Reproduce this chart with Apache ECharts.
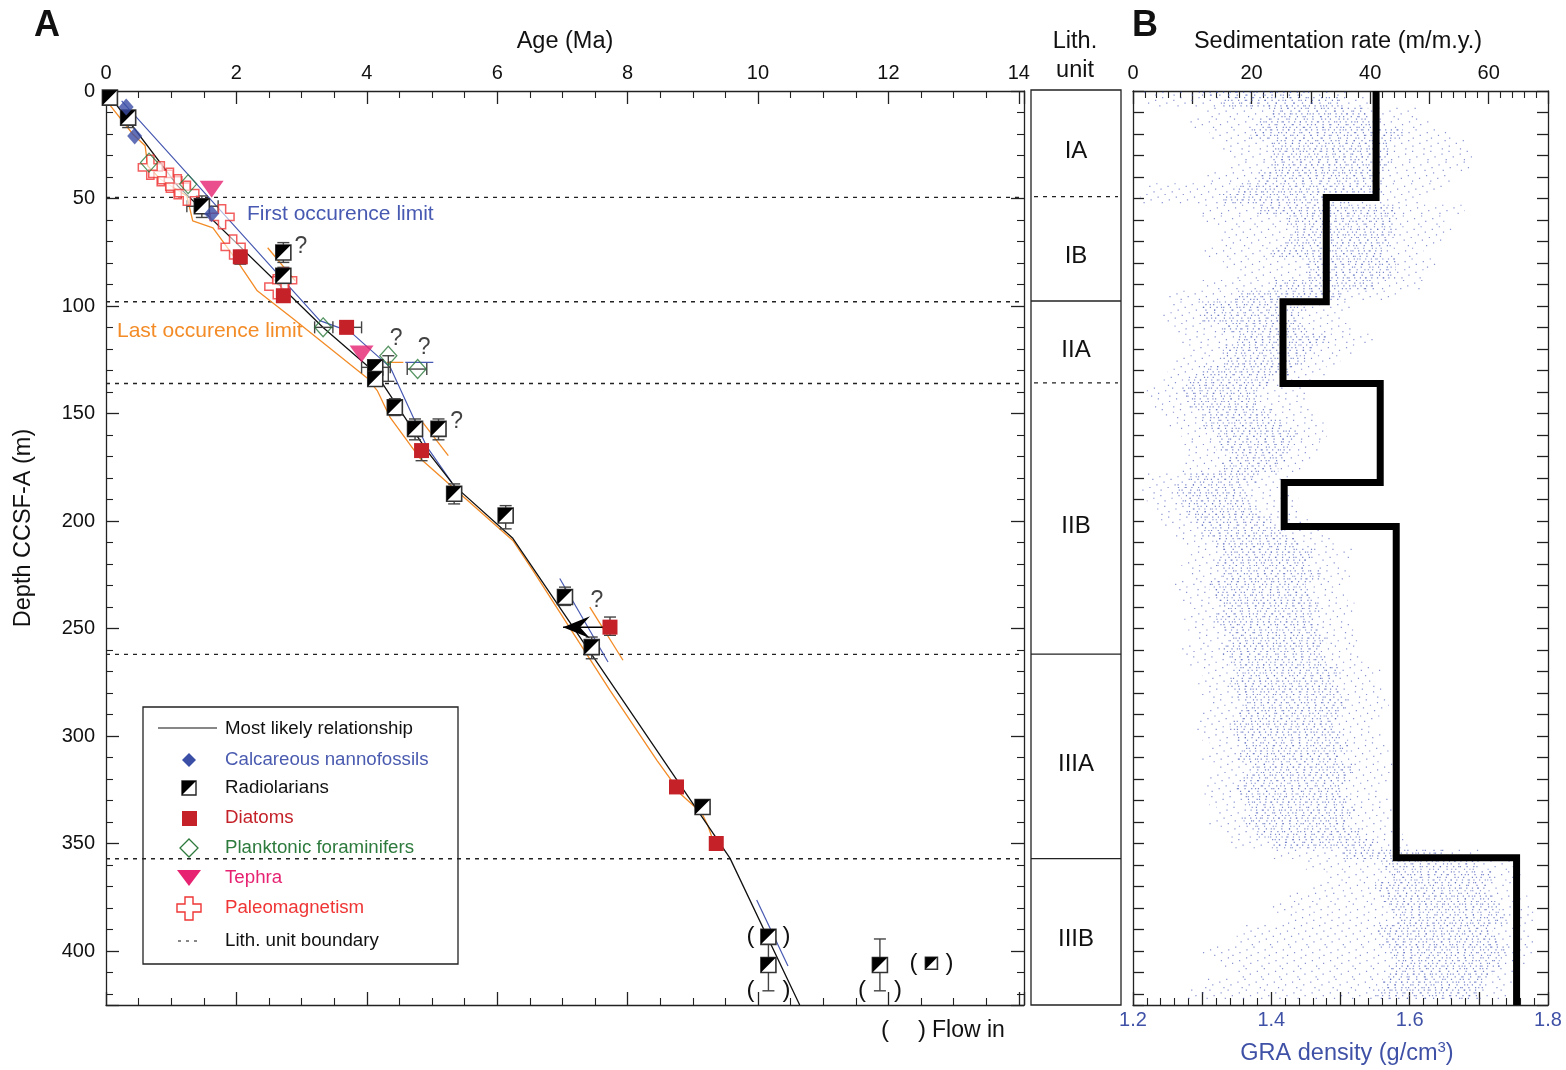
<!DOCTYPE html>
<html>
<head>
<meta charset="utf-8">
<title>Age-depth model and sedimentation rate</title>
<script src="https://cdn.jsdelivr.net/npm/echarts@6/dist/echarts.min.js"></script>
<style>
html,body{margin:0;padding:0;background:#fff;}
#chart{width:1566px;height:1070px;}
</style>
</head>
<body>
<div id="chart"></div>
<script>
// ---------- datums: [age (Ma), depth (m CCSF-A)] ----------
const nannofossils = [[0.31, 7.4], [0.44, 20.9], [1.62, 57.1]];
const radiolarians = [[0.06, 3.1], [0.34, 12.4], [1.47, 53.6], [2.72, 75.1], [2.72, 85.9], [4.13, 128.5], [4.13, 133.9],
  [4.43, 147.1], [4.74, 157.1], [5.10, 157.1], [5.34, 187.3], [6.13, 197.4], [7.04, 235.3], [7.45, 258.6],
  [9.15, 332.9], [10.16, 393.3], [10.16, 406.4], [11.87, 406.4]];
const radiolariansFlowIn = [[12.66, 405.6]];
const diatoms = [[2.06, 77.1], [2.72, 95.2], [3.69, 109.9], [4.84, 167.2], [7.73, 249.3], [8.75, 323.6], [9.36, 349.9]];
const forams = [[0.66, 33.3], [1.26, 43.3], [3.33, 109.9], [4.33, 123.1], [4.78, 129.3]];
const tephra = [[1.62, 45.7], [3.92, 122.3]];
const paleomag = [[0.68, 35.5], [0.84, 38.5], [0.98, 41.5], [1.10, 44.5], [1.24, 47.5], [1.78, 58.5], [1.95, 72.5], [2.62, 91.0], [2.74, 88.0]];

// depth uncertainty [age, top, bottom] and age uncertainty [depth, young, old]
const depthBars = [[1.47, 48.8, 58.8], [2.72, 70.5, 79.7], [2.72, 82.0, 90.0], [4.43, 143.1, 150.9], [4.74, 152.5, 162.2],
  [5.10, 152.5, 162.2], [5.34, 182.7, 192.0], [6.13, 192.8, 203.6], [7.04, 230.7, 239.2], [7.45, 253.9, 264.0],
  [10.16, 393.3, 418.4], [11.87, 394.3, 418.4], [7.73, 244.6, 253.1], [4.84, 165.0, 171.9], [2.06, 75.0, 80.5],
  [4.33, 123.1, 135.0], [0.34, 9.5, 17.0]];
const ageBars = [[53.6, 1.24, 1.72], [128.5, 3.92, 4.36], [109.9, 3.69, 3.92], [109.9, 3.20, 3.48], [129.3, 4.62, 4.92]];

// age model lines
const mostLikely = [[0, 0], [1.10, 44.1], [3.33, 110.0], [4.13, 131.0], [4.92, 167.2], [5.34, 183.5], [6.24, 208.0], [9.57, 356.7], [10.64, 425]];
const firstOccLimit = [[0.24, 4.6], [3.28, 106.8], [3.75, 112.0], [4.36, 128.5], [4.92, 165.4], [5.30, 181.9]];
const lastOccLimit = [[0.03, 5.4], [0.41, 20.0], [0.60, 25.5], [0.64, 34.8], [0.83, 40.9], [1.24, 48.8], [1.33, 60.4],
  [1.64, 63.6], [2.01, 79.0], [2.32, 92.9], [2.87, 105.9], [4.00, 133.3], [4.16, 139.3], [4.36, 151.9], [4.82, 170.9],
  [6.24, 209.0], [6.55, 223.0], [7.73, 278.7], [8.45, 311.2], [8.65, 319.6], [8.80, 326.5], [9.14, 335.8], [9.23, 341.4], [9.36, 353.0]];
const firstOccRanges = [[[6.96, 226.7], [7.70, 265.5]], [[9.98, 376.2], [10.46, 406.9]], [[4.59, 126.2], [5.02, 126.2]]];
const lastOccRanges = [[[2.48, 72.9], [2.90, 88.2]], [[4.86, 154.2], [5.25, 169.5]], [[7.42, 240.0], [7.93, 264.7]], [[4.31, 126.2], [4.56, 126.2]]];
const reworkArrow = [[7.73, 249.3], [7.01, 249.3]];

const queried = [[2.99, 72.5], [4.45, 115.2], [4.88, 119.4], [5.38, 153.7], [7.53, 236.9]];
const flowInBrackets = [[10.16, 393.3], [12.66, 405.6], [10.16, 418.4], [11.87, 418.4]];

// ---------- lithology ----------
const lithUnits = ['IA', 'IB', 'IIA', 'IIB', 'IIIA', 'IIIB'];
const lithTops = [0, 49.5, 98, 136, 262, 357];
const lithUnitBoundaries = [98, 262, 357];
const lithSubunitBoundaries = [49.5, 136];

// ---------- sedimentation rate (m/m.y.) per interval ----------
const rateTops = [0, 49.5, 98, 136, 182, 202.5, 356.5];
const rates = [41.0, 32.6, 25.3, 41.7, 25.5, 44.4, 64.7];

// ---------- GRA density envelope ----------
const graDepth = [0, 5, 10, 15, 20, 25, 30, 35, 40, 45, 50, 55, 60, 65, 70, 75, 80, 85, 90, 95, 100, 105, 110, 115, 120, 125,
  130, 135, 140, 145, 150, 155, 160, 165, 170, 175, 180, 185, 190, 195, 200, 205, 210, 215, 220, 225, 230, 235, 240, 245, 250,
  255, 260, 265, 270, 275, 280, 285, 290, 295, 300, 305, 310, 315, 320, 325, 330, 335, 340, 345, 350, 355, 360, 365, 370, 375,
  380, 385, 390, 395, 400, 405, 410, 415, 420];
const graOuterMin = [1.21, 1.22, 1.30, 1.28, 1.31, 1.33, 1.34, 1.34, 1.30, 1.22, 1.21, 1.30, 1.30, 1.33, 1.32, 1.30, 1.33, 1.35, 1.30, 1.25,
  1.25, 1.24, 1.26, 1.27, 1.28, 1.26, 1.25, 1.24, 1.22, 1.23, 1.24, 1.25, 1.27, 1.27, 1.28, 1.27, 1.22, 1.21, 1.22, 1.23,
  1.24, 1.26, 1.27, 1.28, 1.27, 1.28, 1.26, 1.27, 1.28, 1.27, 1.28, 1.29, 1.27, 1.28, 1.30, 1.29, 1.30, 1.31, 1.30, 1.29,
  1.30, 1.31, 1.30, 1.32, 1.31, 1.30, 1.31, 1.32, 1.31, 1.33, 1.34, 1.40, 1.45, 1.48, 1.46, 1.42, 1.40, 1.42, 1.36, 1.35,
  1.30, 1.32, 1.35, 1.30, 1.28];
const graCoreMin = [1.30, 1.33, 1.40, 1.38, 1.37, 1.40, 1.40, 1.40, 1.38, 1.35, 1.33, 1.38, 1.42, 1.43, 1.42, 1.40, 1.45, 1.45, 1.40, 1.35,
  1.30, 1.30, 1.33, 1.35, 1.33, 1.33, 1.30, 1.28, 1.27, 1.28, 1.30, 1.30, 1.32, 1.32, 1.34, 1.33, 1.28, 1.26, 1.27, 1.28,
  1.29, 1.30, 1.32, 1.33, 1.32, 1.33, 1.31, 1.32, 1.33, 1.32, 1.33, 1.34, 1.33, 1.34, 1.35, 1.34, 1.35, 1.36, 1.35, 1.34,
  1.35, 1.36, 1.35, 1.37, 1.36, 1.35, 1.36, 1.37, 1.36, 1.38, 1.40, 1.50, 1.56, 1.57, 1.55, 1.56, 1.57, 1.58, 1.55, 1.56,
  1.57, 1.58, 1.57, 1.56, 1.55];
const graCoreMax = [1.45, 1.50, 1.54, 1.56, 1.59, 1.57, 1.57, 1.57, 1.56, 1.56, 1.52, 1.58, 1.58, 1.58, 1.57, 1.56, 1.58, 1.58, 1.55, 1.50,
  1.45, 1.44, 1.45, 1.48, 1.46, 1.45, 1.43, 1.40, 1.38, 1.38, 1.40, 1.42, 1.44, 1.43, 1.42, 1.41, 1.38, 1.36, 1.37, 1.38,
  1.40, 1.42, 1.44, 1.46, 1.45, 1.47, 1.45, 1.46, 1.47, 1.46, 1.47, 1.48, 1.47, 1.48, 1.50, 1.49, 1.50, 1.51, 1.50, 1.49,
  1.50, 1.51, 1.50, 1.52, 1.51, 1.50, 1.51, 1.52, 1.51, 1.53, 1.55, 1.65, 1.70, 1.72, 1.71, 1.72, 1.73, 1.74, 1.72, 1.73,
  1.74, 1.73, 1.72, 1.71, 1.70];
const graOuterMax = [1.52, 1.55, 1.61, 1.63, 1.66, 1.68, 1.69, 1.69, 1.66, 1.65, 1.62, 1.68, 1.65, 1.66, 1.65, 1.62, 1.64, 1.62, 1.62, 1.58,
  1.52, 1.50, 1.52, 1.55, 1.52, 1.50, 1.48, 1.46, 1.45, 1.45, 1.46, 1.48, 1.48, 1.47, 1.46, 1.45, 1.43, 1.42, 1.44, 1.44,
  1.46, 1.48, 1.49, 1.52, 1.50, 1.52, 1.50, 1.51, 1.52, 1.51, 1.52, 1.53, 1.52, 1.54, 1.56, 1.55, 1.56, 1.57, 1.56, 1.55,
  1.56, 1.57, 1.56, 1.58, 1.57, 1.56, 1.57, 1.58, 1.57, 1.59, 1.60, 1.70, 1.75, 1.76, 1.76, 1.77, 1.78, 1.78, 1.77, 1.78,
  1.78, 1.77, 1.76, 1.75, 1.74];

// ---------- tick labels ----------
const ageLabels = [0, 2, 4, 6, 8, 10, 12, 14];
const depthLabels = [0, 50, 100, 150, 200, 250, 300, 350, 400];
const rateLabels = [0, 20, 40, 60];
const densityLabels = [1.2, 1.4, 1.6, 1.8];

// ---------- styling ----------
const FONT = '"Liberation Sans", Arial, Helvetica, sans-serif';
const INK = '#222';
const C_NANNO = '#3b4ea5';
const C_DIATOM = '#c42129';
const C_FORAM = '#2c7a3c';
const C_TEPHRA = '#e62271';
const C_PMAG = '#ef3535';
const C_FIRST = '#4759b1';
const C_LAST = '#f38b26';
const C_GRA = '#3f51a6';
const C_DOTS = '#5565bd';

const AGE_MAX = 14.08, DEPTH_MAX = 425;
const GRID_TOP = 91, GRID_H = 914;

function labelFrom(list, digits) {
  return v => {
    const t = list.find(x => Math.abs(x - v) < 1e-6);
    return t === undefined ? '' : (digits ? t.toFixed(digits) : String(t));
  };
}

function frameAxis(o) {
  return Object.assign({
    type: 'value',
    axisLine: { show: true, onZero: false, lineStyle: { color: INK, width: 1.3 } },
    axisTick: { show: true, inside: true, length: 13, lineStyle: { color: INK, width: 1.3 } },
    minorTick: { show: true, splitNumber: 5, length: 7, lineStyle: { color: INK, width: 1.1 } },
    splitLine: { show: false },
    minorSplitLine: { show: false },
    axisLabel: { show: false }
  }, o);
}
const tickLabel = (fmt, extra) => Object.assign({
  show: true, formatter: fmt, fontSize: 20, color: '#111', fontFamily: FONT, margin: 9,
  showMinLabel: true, showMaxLabel: true, hideOverlap: false
}, extra || {});

const pathCross = 'path://M7,0 H13 V7 H20 V13 H13 V20 H7 V13 H0 V7 H7 Z';

// radiolarian symbol: square, black upper-left half
function radiolarianItem(size) {
  return function (params, api) {
    const p = api.coord([api.value(0), api.value(1)]);
    const h = size / 2;
    return {
      type: 'group', children: [
        { type: 'rect', shape: { x: p[0] - h, y: p[1] - h, width: size, height: size }, style: { fill: '#fff', stroke: '#333', lineWidth: 1.6 } },
        { type: 'polygon', shape: { points: [[p[0] - h, p[1] - h], [p[0] + h, p[1] - h], [p[0] - h, p[1] + h]] }, style: { fill: '#000' } }
      ]
    };
  };
}

const segStyle = { stroke: '#444', lineWidth: 1.4 };

const series = [];

// lith unit boundaries across panel A
series.push({
  type: 'custom', xAxisIndex: 0, yAxisIndex: 0, silent: true, z: 1,
  data: lithTops.slice(1).map(d => [0, d]),
  renderItem: (params, api) => {
    const a = api.coord([0, api.value(1)]);
    const b = api.coord([AGE_MAX, api.value(1)]);
    return { type: 'line', shape: { x1: a[0], y1: a[1], x2: b[0], y2: b[1] }, style: { stroke: '#222', lineWidth: 1.3, lineDash: [4, 5] } };
  }
});

// age model lines
const lineSeries = (data, color, width, z) => ({
  type: 'line', xAxisIndex: 0, yAxisIndex: 0, data, showSymbol: false, silent: true, z: z || 2,
  lineStyle: { color, width: width || 1.2 }, animation: false
});
series.push(lineSeries(lastOccLimit, C_LAST, 1.3));
series.push(lineSeries(firstOccLimit, C_FIRST, 1.2));
series.push(lineSeries(mostLikely, '#111', 1.3, 3));
firstOccRanges.forEach(s => series.push(lineSeries(s, C_FIRST, 1.2)));
lastOccRanges.forEach(s => series.push(lineSeries(s, C_LAST, 1.3)));

// uncertainty bars
series.push({
  type: 'custom', xAxisIndex: 0, yAxisIndex: 0, silent: true, z: 4, data: depthBars,
  renderItem: (params, api) => {
    const a = api.coord([api.value(0), api.value(1)]);
    const b = api.coord([api.value(0), api.value(2)]);
    const c = 6;
    return {
      type: 'group', children: [
        { type: 'line', shape: { x1: a[0], y1: a[1], x2: b[0], y2: b[1] }, style: segStyle },
        { type: 'line', shape: { x1: a[0] - c, y1: a[1], x2: a[0] + c, y2: a[1] }, style: segStyle },
        { type: 'line', shape: { x1: b[0] - c, y1: b[1], x2: b[0] + c, y2: b[1] }, style: segStyle }
      ]
    };
  }
});
series.push({
  type: 'custom', xAxisIndex: 0, yAxisIndex: 0, silent: true, z: 4, data: ageBars.map(r => [r[1], r[0], r[2]]),
  renderItem: (params, api) => {
    const a = api.coord([api.value(0), api.value(1)]);
    const b = api.coord([api.value(2), api.value(1)]);
    const c = 6;
    return {
      type: 'group', children: [
        { type: 'line', shape: { x1: a[0], y1: a[1], x2: b[0], y2: b[1] }, style: segStyle },
        { type: 'line', shape: { x1: a[0], y1: a[1] - c, x2: a[0], y2: a[1] + c }, style: segStyle },
        { type: 'line', shape: { x1: b[0], y1: b[1] - c, x2: b[0], y2: b[1] + c }, style: segStyle }
      ]
    };
  }
});

// reworked diatom arrow
series.push({
  type: 'custom', xAxisIndex: 0, yAxisIndex: 0, silent: true, z: 5, data: [reworkArrow[0].concat(reworkArrow[1])],
  renderItem: (params, api) => {
    const a = api.coord([api.value(0), api.value(1)]);
    const t = api.coord([api.value(2), api.value(3)]);
    return {
      type: 'group', children: [
        { type: 'line', shape: { x1: a[0], y1: a[1], x2: t[0], y2: t[1] }, style: { stroke: '#000', lineWidth: 1.5 } },
        { type: 'polygon', shape: { points: [[t[0], t[1]], [t[0] + 27, t[1] - 11], [t[0] + 17, t[1]], [t[0] + 27, t[1] + 11]] }, style: { fill: '#000' } }
      ]
    };
  }
});

// markers
series.push({ type: 'scatter', xAxisIndex: 0, yAxisIndex: 0, z: 6, data: paleomag, symbol: pathCross, symbolSize: 24,
  itemStyle: { color: 'rgba(255,255,255,0.75)', borderColor: C_PMAG, borderWidth: 1.5 }, silent: true });
series.push({ type: 'scatter', xAxisIndex: 0, yAxisIndex: 0, z: 6, data: forams, symbol: 'diamond', symbolSize: [17, 19],
  itemStyle: { color: 'rgba(255,255,255,0)', borderColor: C_FORAM, borderWidth: 1.3 }, silent: true });
series.push({ type: 'scatter', xAxisIndex: 0, yAxisIndex: 0, z: 6, data: diatoms, symbol: 'rect', symbolSize: 15,
  itemStyle: { color: C_DIATOM, opacity: 1 }, silent: true });
series.push({ type: 'custom', xAxisIndex: 0, yAxisIndex: 0, z: 7, data: radiolarians, renderItem: radiolarianItem(15), silent: true });
series.push({ type: 'custom', xAxisIndex: 0, yAxisIndex: 0, z: 7, data: radiolariansFlowIn, renderItem: radiolarianItem(12), silent: true });
series.push({ type: 'scatter', xAxisIndex: 0, yAxisIndex: 0, z: 7, data: nannofossils, symbol: 'diamond', symbolSize: [15, 17],
  itemStyle: { color: C_NANNO }, silent: true });
series.push({ type: 'scatter', xAxisIndex: 0, yAxisIndex: 0, z: 7, data: tephra, symbol: 'triangle', symbolRotate: 180, symbolSize: [24, 17],
  itemStyle: { color: C_TEPHRA }, silent: true });

// queried datums
series.push({ type: 'scatter', xAxisIndex: 0, yAxisIndex: 0, z: 8, data: queried, symbolSize: 0, silent: true,
  label: { show: true, position: 'inside', formatter: '?', fontSize: 23, color: '#111', fontFamily: FONT } });

// flow-in brackets
series.push({
  type: 'custom', xAxisIndex: 0, yAxisIndex: 0, z: 8, silent: true, data: flowInBrackets,
  renderItem: (params, api) => {
    const p = api.coord([api.value(0), api.value(1)]);
    const st = x => ({ text: x, fontSize: 24, fontFamily: FONT, fill: '#111', textAlign: 'center', textVerticalAlign: 'middle' });
    return { type: 'group', children: [
      { type: 'text', x: p[0] - 18, y: p[1], style: st('(') },
      { type: 'text', x: p[0] + 18, y: p[1], style: st(')') }
    ] };
  }
});

// lithology column
series.push({
  type: 'custom', xAxisIndex: 2, yAxisIndex: 2, silent: true, z: 3,
  data: lithUnits.map((u, i) => [0, lithTops[i], i < lithTops.length - 1 ? lithTops[i + 1] : DEPTH_MAX]),
  renderItem: (params, api) => {
    const i = params.dataIndex;
    const top = api.value(1), bot = api.value(2);
    const a = api.coord([0, top]), b = api.coord([1, top]);
    const m = api.coord([0.5, (top + bot) / 2]);
    const children = [{ type: 'text', x: m[0], y: m[1] + 8, style: { text: lithUnits[i], fontSize: 24, fontFamily: FONT, fill: '#111', textAlign: 'center', textVerticalAlign: 'middle' } }];
    if (lithUnitBoundaries.indexOf(top) >= 0) {
      children.push({ type: 'line', shape: { x1: a[0], y1: a[1], x2: b[0], y2: b[1] }, style: { stroke: '#222', lineWidth: 1.3 } });
    } else if (lithSubunitBoundaries.indexOf(top) >= 0) {
      children.push({ type: 'line', shape: { x1: a[0] + 3, y1: a[1], x2: b[0] - 3, y2: b[1] }, style: { stroke: '#222', lineWidth: 1.2, lineDash: [4, 5] } });
    }
    return { type: 'group', children };
  }
});

// GRA density cloud
series.push({
  type: 'custom', xAxisIndex: 4, yAxisIndex: 3, silent: true, z: 1, clip: true,
  data: graDepth.map((d, i) => [graOuterMin[i], d, graCoreMin[i], graCoreMax[i], graOuterMax[i]]),
  renderItem: (params, api) => {
    const d = api.value(1);
    const rows = [];
    const gaps = [4.5, 6.5, 5.5, 7.5];
    for (let k = 0; k < 4; k++) {
      const y = api.coord([1.2, d])[1] + (k - 1.5) * 2.7;
      const o1 = api.coord([api.value(0), d])[0], c1 = api.coord([api.value(2), d])[0];
      const c2 = api.coord([api.value(3), d])[0], o2 = api.coord([api.value(4), d])[0];
      rows.push({ type: 'line', shape: { x1: o1, y1: y, x2: o2, y2: y }, style: { stroke: C_DOTS, lineWidth: 1.2, lineDash: [1.2, 17], lineDashOffset: k * 7 + params.dataIndex * 3, opacity: 0.7 } });
      rows.push({ type: 'line', shape: { x1: c1, y1: y, x2: c2, y2: y }, style: { stroke: C_DOTS, lineWidth: 1.2, lineDash: [1.2, gaps[(k + params.dataIndex) % 4]], lineDashOffset: k * 3 + params.dataIndex * 2, opacity: 0.8 } });
    }
    return { type: 'group', children: rows };
  }
});

// sedimentation rate steps
const rateLine = [];
rates.forEach((r, i) => {
  rateLine.push([r, rateTops[i]]);
  rateLine.push([r, i < rateTops.length - 1 ? rateTops[i + 1] : DEPTH_MAX]);
});
series.push({ type: 'line', xAxisIndex: 3, yAxisIndex: 3, data: rateLine, showSymbol: false, silent: true, z: 5, clip: false,
  lineStyle: { color: '#000', width: 7, cap: 'butt', join: 'miter' } });

// ---------- legend and annotations ----------
const T = (x, y, text, o) => ({ type: 'text', x, y, silent: true, style: Object.assign({ text, fontFamily: FONT, fontSize: 18.7, fill: '#111', textVerticalAlign: 'middle' }, o || {}) });
const LX = 225;
const graphic = [
  T(47, 26, 'A', { fontSize: 36, fontWeight: 'bold', textAlign: 'center' }),
  T(1145, 26, 'B', { fontSize: 36, fontWeight: 'bold', textAlign: 'center' }),
  T(565, 42, 'Age (Ma)', { fontSize: 23.5, textAlign: 'center' }),
  T(1075, 42, 'Lith.', { fontSize: 23.5, textAlign: 'center' }),
  T(1075, 71, 'unit', { fontSize: 23.5, textAlign: 'center' }),
  T(1338, 42, 'Sedimentation rate (m/m.y.)', { fontSize: 23.5, textAlign: 'center' }),
  { type: 'text', x: 1347, y: 1054, silent: true, style: { text: '{a|GRA density (g/cm}{s|3}{a|)}', fill: C_GRA, textAlign: 'center', textVerticalAlign: 'middle',
      rich: { a: { fontSize: 23.5, fontFamily: FONT, fill: C_GRA }, s: { fontSize: 15, fontFamily: FONT, fill: C_GRA, verticalAlign: 'top', padding: [0, 0, 12, 0] } } } },
  { type: 'text', x: 24, y: 528, rotation: Math.PI / 2, silent: true, style: { text: 'Depth CCSF-A (m)', fontFamily: FONT, fontSize: 23.5, fill: '#111', textAlign: 'center', textVerticalAlign: 'middle' } },
  T(247, 214, 'First occurence limit', { fontSize: 21, fill: C_FIRST }),
  T(117, 331, 'Last occurence limit', { fontSize: 21, fill: C_LAST }),
  T(885, 1030, '(', { fontSize: 24, textAlign: 'center' }),
  T(922, 1030, ')', { fontSize: 24, textAlign: 'center' }),
  T(932, 1031, 'Flow in', { fontSize: 23 }),
  // legend box
  { type: 'rect', silent: true, shape: { x: 143, y: 707, width: 315, height: 257 }, style: { fill: 'none', stroke: '#222', lineWidth: 1.3 } },
  { type: 'line', silent: true, shape: { x1: 158, y1: 728, x2: 217, y2: 728 }, style: { stroke: '#111', lineWidth: 1.2 } },
  T(LX, 729, 'Most likely relationship'),
  { type: 'polygon', silent: true, shape: { points: [[189, 753], [196, 760], [189, 767], [182, 760]] }, style: { fill: C_NANNO } },
  T(LX, 760, 'Calcareous nannofossils', { fill: '#4a5bb0' }),
  { type: 'rect', silent: true, shape: { x: 182, y: 781, width: 14, height: 14 }, style: { fill: '#fff', stroke: '#222', lineWidth: 1.4 } },
  { type: 'polygon', silent: true, shape: { points: [[182, 781], [196, 781], [182, 795]] }, style: { fill: '#000' } },
  T(LX, 788, 'Radiolarians'),
  { type: 'rect', silent: true, shape: { x: 182, y: 811, width: 15, height: 15 }, style: { fill: C_DIATOM } },
  T(LX, 818, 'Diatoms', { fill: C_DIATOM }),
  { type: 'polygon', silent: true, shape: { points: [[189, 839], [198, 848], [189, 857], [180, 848]] }, style: { fill: 'none', stroke: C_FORAM, lineWidth: 1.3 } },
  T(LX, 848, 'Planktonic foraminifers', { fill: C_FORAM }),
  { type: 'polygon', silent: true, shape: { points: [[177, 870], [201, 870], [189, 886]] }, style: { fill: C_TEPHRA } },
  T(LX, 878, 'Tephra', { fill: C_TEPHRA }),
  { type: 'polygon', silent: true, shape: { points: [[185, 897], [193, 897], [193, 904], [201, 904], [201, 912], [193, 912], [193, 920], [185, 920], [185, 912], [177, 912], [177, 904], [185, 904]] }, style: { fill: '#fff', stroke: C_PMAG, lineWidth: 1.4 } },
  T(LX, 908, 'Paleomagnetism', { fill: C_PMAG }),
  { type: 'line', silent: true, shape: { x1: 178, y1: 941, x2: 202, y2: 941 }, style: { stroke: '#111', lineWidth: 1.2, lineDash: [3, 5] } },
  T(LX, 941, 'Lith. unit boundary')
];

const depthTicksB = { show: true, inside: true, length: 11, lineStyle: { color: INK, width: 1.3 } };

const option = {
  animation: false,
  backgroundColor: '#fff',
  grid: [
    { left: 106, top: GRID_TOP, width: 918, height: GRID_H },
    { left: 1031, top: GRID_TOP - 1, width: 90, height: GRID_H + 1, show: true, borderColor: '#222', borderWidth: 1.3 },
    { left: 1133, top: GRID_TOP, width: 415, height: GRID_H }
  ],
  xAxis: [
    frameAxis({ gridIndex: 0, position: 'top', min: 0, max: AGE_MAX, interval: 2, minorTick: { show: true, splitNumber: 4, length: 7, lineStyle: { color: INK, width: 1.1 } },
      axisLabel: tickLabel(labelFrom(ageLabels), { showMaxLabel: false, margin: 8 }) }),
    frameAxis({ gridIndex: 0, position: 'bottom', min: 0, max: AGE_MAX, interval: 2, minorTick: { show: true, splitNumber: 4, length: 7, lineStyle: { color: INK, width: 1.1 } } }),
    { gridIndex: 1, type: 'value', min: 0, max: 1, show: false },
    frameAxis({ gridIndex: 2, position: 'top', min: 0, max: 70, interval: 10, axisLabel: tickLabel(labelFrom(rateLabels), { showMaxLabel: false, margin: 8 }) }),
    frameAxis({ gridIndex: 2, position: 'bottom', min: 1.2, max: 1.8, interval: 0.1, axisLabel: tickLabel(labelFrom(densityLabels, 1), { color: C_GRA, margin: 5 }) })
  ],
  yAxis: [
    frameAxis({ gridIndex: 0, position: 'left', inverse: true, min: 0, max: DEPTH_MAX, interval: 50, axisLabel: tickLabel(labelFrom(depthLabels), { showMaxLabel: false, margin: 11 }) }),
    frameAxis({ gridIndex: 0, position: 'right', inverse: true, min: 0, max: DEPTH_MAX, interval: 50 }),
    { gridIndex: 1, type: 'value', inverse: true, min: 0, max: DEPTH_MAX, show: false },
    frameAxis({ gridIndex: 2, position: 'left', inverse: true, min: 0, max: DEPTH_MAX, interval: 10, axisTick: depthTicksB, minorTick: { show: false } }),
    frameAxis({ gridIndex: 2, position: 'right', inverse: true, min: 0, max: DEPTH_MAX, interval: 10, axisTick: depthTicksB, minorTick: { show: false } })
  ],
  series,
  graphic
};

const chart = echarts.init(document.getElementById('chart'), null, { renderer: 'canvas' });
chart.setOption(option);
</script>
</body>
</html>
